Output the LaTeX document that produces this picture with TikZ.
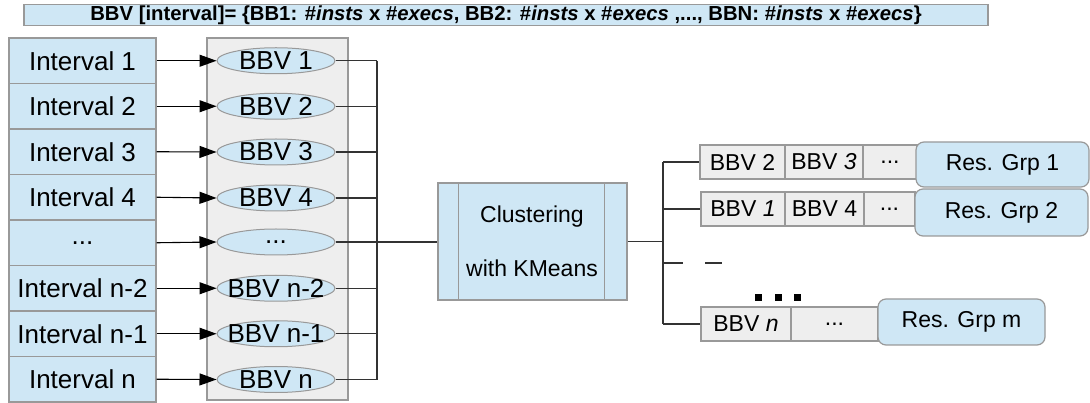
\documentclass[tikz,border=0pt]{standalone}
\usepackage{fontspec}
\setmainfont{Liberation Sans}
\usetikzlibrary{arrows.meta,shapes.geometric}
\definecolor{pblue}{HTML}{CFE7F5}
\definecolor{pgrey}{HTML}{EEEEEE}
\definecolor{bgrey}{HTML}{999999}
\definecolor{lgrey}{HTML}{333333}
\begin{document}
\begin{tikzpicture}[x=1pt,y=-1pt,
  big/.style={font=\fontsize{26}{30}\selectfont},
  mid/.style={font=\fontsize{23}{28}\selectfont},
  ibox/.style={draw=bgrey,line width=1.2pt,fill=pblue,inner sep=0pt,minimum width=147pt,minimum height=45.5pt,big},
  ell/.style={ellipse,draw=bgrey,line width=1pt,fill=pblue,inner sep=0pt,minimum width=118pt,minimum height=26pt},
  etxt/.style={inner sep=0pt,big},
  gbox/.style={draw=bgrey,line width=1.2pt,fill=pgrey,inner sep=0pt,minimum height=34pt,mid},
  rbox/.style={draw=bgrey,line width=1.2pt,fill=pblue,inner sep=0pt,rounded corners=8pt,mid},
  arr/.style={draw=black,line width=1.1pt,-{Triangle[length=17pt,width=12pt]}},
  con/.style={draw=lgrey,line width=1.1pt},
  sq/.style={fill=black,inner sep=0pt,minimum size=7pt}
]
\useasboundingbox (0,0) rectangle (1090,403);
% title bar
\node[draw=bgrey,line width=1.2pt,fill=pblue,inner sep=0pt,minimum width=964pt,minimum height=21pt,
  font=\fontsize{20.3}{24}\selectfont\bfseries] (title) at (506,15)
  {BBV [interval]= \{BB1: \#\textit{insts} x \#\textit{execs}, BB2: \#\textit{insts} x \#\textit{execs} ,..., BBN: \#\textit{insts} x \#\textit{execs}\}};
% grey panel
\node[draw=bgrey,line width=1.2pt,fill=pgrey,inner sep=0pt,minimum width=141pt,minimum height=362pt] (panel) at (277.5,219) {};
% intervals
\node[ibox] (i1) at (82.5,60.75) {Interval 1};
\node[ibox] (i2) at (82.5,106.25) {Interval 2};
\node[ibox] (i3) at (82.5,151.75) {Interval 3};
\node[ibox] (i4) at (82.5,197.25) {Interval 4};
\node[ibox] (i5) at (82.5,242.75) {...};
\node[ibox] (i6) at (82.5,288.25) {Interval n-2};
\node[ibox] (i7) at (82.5,333.75) {Interval n-1};
\node[ibox] (i8) at (82.5,379.25) {Interval n};
% ellipses
\node[ell] (e1) at (276,60.75) {};   \node[etxt] (et1) at (e1) {BBV 1};
\node[ell] (e2) at (276,106.25) {};  \node[etxt] (et2) at (e2) {BBV 2};
\node[ell] (e3) at (276,152) {};     \node[etxt] (et3) at (e3) {BBV 3};
\node[ell] (e4) at (276,198) {};     \node[etxt] (et4) at (e4) {BBV 4};
\node[ell] (e5) at (276,242) {};     \node[etxt] (et5) at (e5) {...};
\node[ell] (e6) at (276,288.25) {};  \node[etxt] (et6) at (e6) {BBV n-2};
\node[ell] (e7) at (276,333.75) {};  \node[etxt] (et7) at (e7) {BBV n-1};
\node[ell] (e8) at (276,379.5) {};   \node[etxt] (et8) at (e8) {BBV n};
% arrows
\foreach \k in {1,2,3,4,5,6,7,8}{ \draw[arr] (i\k.east) -- (e\k.west); }
% bus
\coordinate (bt) at (377,60.75);
\coordinate (bb) at (377,379.5);
\draw[con] (bt) -- (bb);
\foreach \k in {1,2,3,4,6,7,8}{ \draw[con] (e\k.east) -- (e\k.east -| bt); }
% clustering
\node[draw=bgrey,line width=1.2pt,fill=pblue,inner sep=0pt,minimum width=189pt,minimum height=117pt] (cl) at (532.5,241.5) {};
\draw[bgrey,line width=1.2pt] ([xshift=21pt]cl.north west) -- ([xshift=21pt]cl.south west);
\draw[bgrey,line width=1.2pt] ([xshift=-23pt]cl.north east) -- ([xshift=-23pt]cl.south east);
\node[mid,inner sep=0pt] (clt1) at (532,217) {Clustering};
\node[mid,inner sep=0pt] (clt2) at (532,268) {with KMeans};
\draw[con] (e5.east) -- (e5.east -| cl.west);
% right side
\coordinate (vb) at (663,242);
\draw[con] (cl.east) -- (cl.east -| vb);
% row 1
\node[gbox,minimum width=85pt] (a1) at (742.5,162) {BBV 2};
\node[gbox,minimum width=78pt] (a2) at (824,162) {BBV \textit{3}};
\node[gbox,minimum width=54pt] (a3) at (890,162) {...};
\node[rbox,minimum width=173pt,minimum height=45pt] (ra) at (1002.5,164.5) {Res. Grp 1};
% row 2
\node[gbox,minimum width=84pt] (b1) at (743,209) {BBV \textit{1}};
\node[gbox,minimum width=79pt] (b2) at (824.5,209) {BBV 4};
\node[gbox,minimum width=51pt] (b3) at (889.5,209) {...};
\node[rbox,minimum width=173pt,minimum height=47pt] (rb) at (1001.5,212.5) {Res. Grp 2};
% row m
\node[gbox,minimum width=90pt] (c1) at (746,324) {BBV \textit{n}};
\node[gbox,minimum width=87pt] (c2) at (834.5,324) {...};
\node[rbox,minimum width=167pt,minimum height=46pt] (rc) at (961.5,322) {Res. Grp m};
\draw[con] (a1.west -| vb) -- (c1.west -| vb);
\draw[con] (a1.west -| vb) -- (a1.west);
\draw[con] (b1.west -| vb) -- (b1.west);
\draw[con] (c1.west -| vb) -- (c1.west);
\coordinate (s1) at (663,263);
\coordinate (s2) at (683,263);
\coordinate (s3) at (705,263);
\coordinate (s4) at (722,263);
\draw[con] (s1) -- (s2);
\draw[con] (s3) -- (s4);
\node[sq] (d1) at (758,298) {};
\node[sq] (d2) at (778,298) {};
\node[sq] (d3) at (797,298) {};
\end{tikzpicture}
\end{document}
